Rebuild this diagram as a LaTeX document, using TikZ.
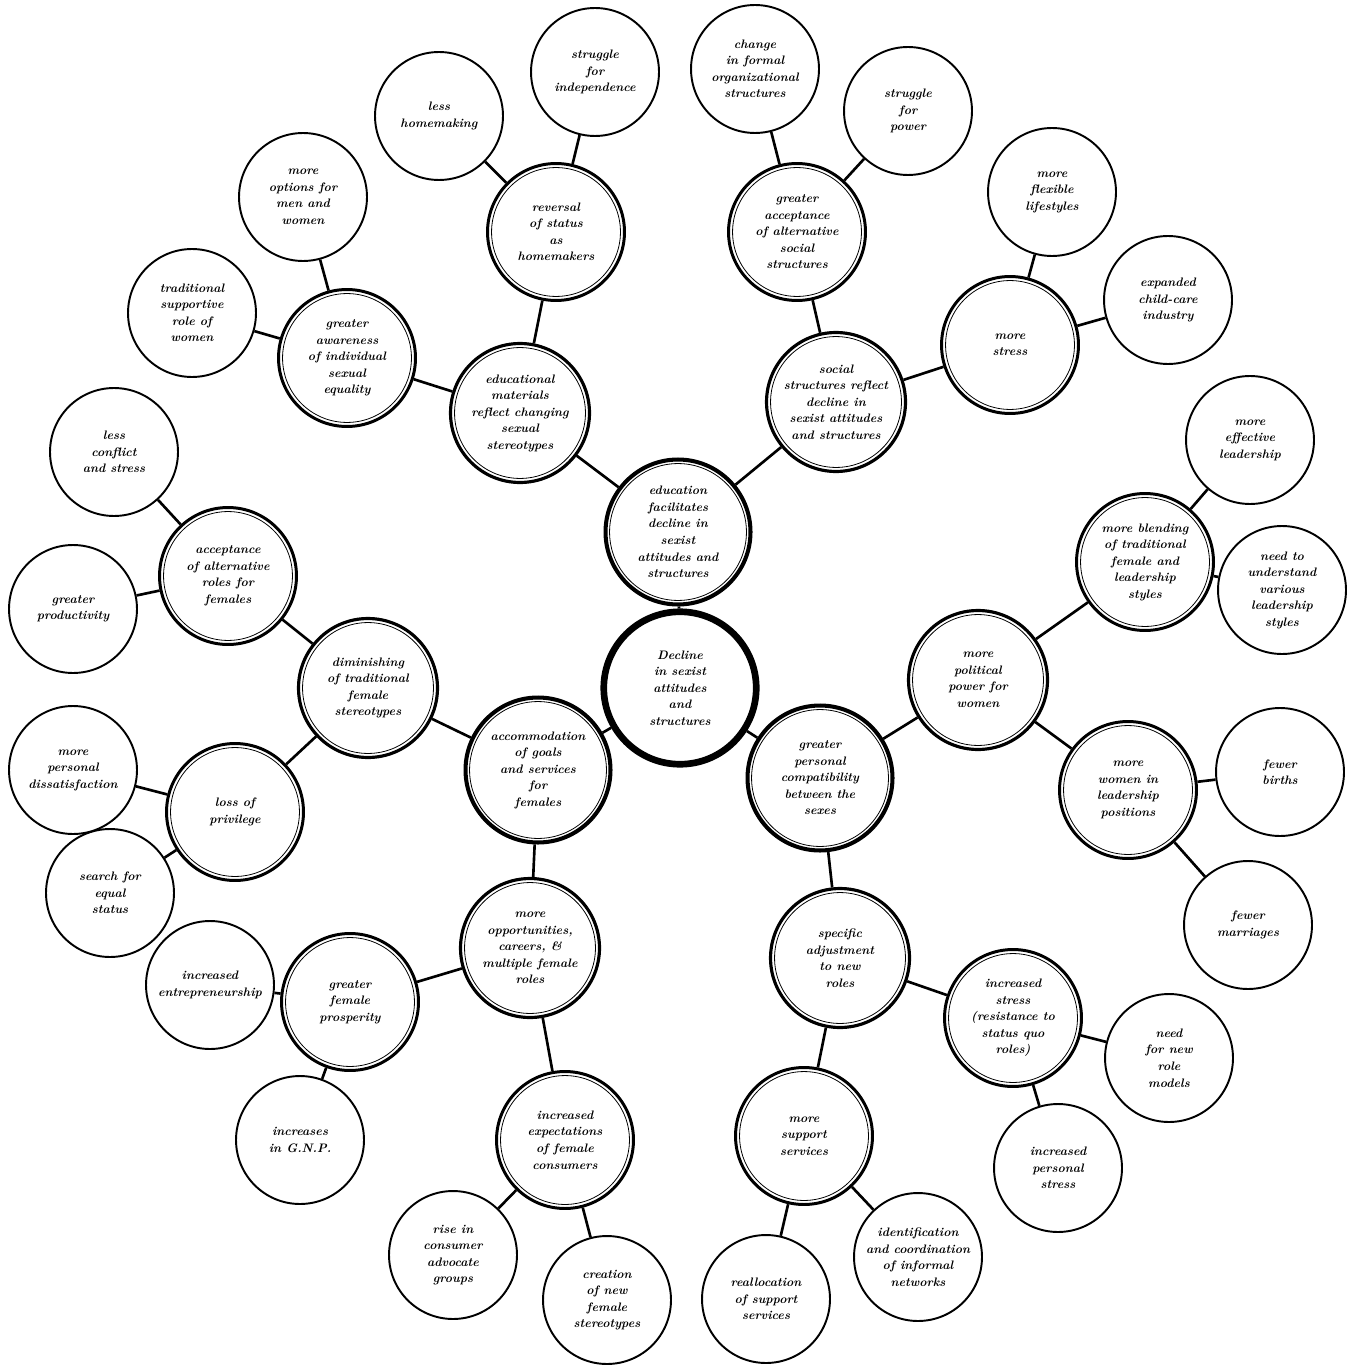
\documentclass[tikz,border=0pt]{standalone}
\usetikzlibrary{calc}
\newcommand{\fwfont}{\fontsize{7}{9.4}\selectfont\bfseries\itshape}
\tikzset{
  fwbase/.style={circle, draw=black, fill=white, inner sep=1pt, align=center, font=\fwfont},
  fwhub/.style={fwbase, line width=3.8pt, minimum size=3.05cm},
  fwring/.style={fwbase, line width=#1,
    path picture={\draw[line width=0.45pt] let \p1=(path picture bounding box.center), \p2=(path picture bounding box.east) in (\p1) circle[radius=\x2-\x1-2.3pt];}},
  fwfirst/.style={fwring=2.3pt, minimum size=2.9cm},
  fwsecond/.style={fwring=1.8pt, minimum size=2.78cm},
  fwthird/.style={fwring=1.7pt, minimum size=2.74cm},
  fwleaf/.style={fwbase, line width=1.1pt, minimum size=2.56cm},
  fwlink/.style={line width=1.5pt, draw=black},
}
\begin{document}
\begin{tikzpicture}[x=0.02cm, y=-0.02cm]
  \useasboundingbox (0,0) rectangle (1346,1368);
  \node[fwhub] (hub) at (680,688) {Decline\\in sexist\\attitudes\\and\\structures};
  \node[fwfirst] (educ) at (678,532) {education\\facilitates\\decline in\\sexist\\attitudes and\\structures};
  \node[fwfirst] (accom) at (538,770) {accommodation\\of goals\\and services\\for\\females};
  \node[fwfirst] (compat) at (820,778) {greater\\personal\\compatibility\\between the\\sexes};
  \node[fwsecond] (edmat) at (520,413) {educational\\materials\\reflect changing\\sexual\\stereotypes};
  \node[fwsecond] (socstr) at (836,402) {social\\structures reflect\\decline in\\sexist attitudes\\and structures};
  \node[fwsecond] (dimin) at (368,688) {diminishing\\of traditional\\female\\stereotypes};
  \node[fwsecond] (oppor) at (530,948) {more\\opportunities,\\careers, \&\\multiple female\\roles};
  \node[fwsecond] (polit) at (978,680) {more\\political\\power for\\women};
  \node[fwsecond] (adjust) at (840,958) {specific\\adjustment\\to new\\roles};
  \node[fwthird] (revers) at (556,232) {reversal\\of status\\as\\homemakers};
  \node[fwthird] (aware) at (347,358) {greater\\awareness\\of individual\\sexual\\equality};
  \node[fwthird] (accalt) at (797,232) {greater\\acceptance\\of alternative\\social\\structures};
  \node[fwthird] (stress) at (1010,345) {more\\stress};
  \node[fwthird] (altrole) at (228,576) {acceptance\\of alternative\\roles for\\females};
  \node[fwthird] (privil) at (235,812) {loss of\\privilege};
  \node[fwthird] (prosp) at (350,1002) {greater\\female\\prosperity};
  \node[fwthird] (expect) at (565,1140) {increased\\expectations\\of female\\consumers};
  \node[fwthird] (blend) at (1145,562) {more blending\\of traditional\\female and\\leadership\\styles};
  \node[fwthird] (wolead) at (1128,790) {more\\women in\\leadership\\positions};
  \node[fwthird] (resist) at (1013,1018) {increased\\stress\\(resistance to\\status quo\\roles)};
  \node[fwthird] (suppt) at (804,1136) {more\\support\\services};
  \node[fwleaf] (homem) at (439,116) {less\\homemaking};
  \node[fwleaf] (indep) at (595,72) {struggle\\for\\independence};
  \node[fwleaf] (formal) at (755,69) {change\\in formal\\organizational\\structures};
  \node[fwleaf] (power) at (908,111) {struggle\\for\\power};
  \node[fwleaf] (flex) at (1052,192) {more\\flexible\\lifestyles};
  \node[fwleaf] (child) at (1168,300) {expanded\\child-care\\industry};
  \node[fwleaf] (efflead) at (1250,440) {more\\effective\\leadership};
  \node[fwleaf] (styles) at (1282,590) {need to\\understand\\various\\leadership\\styles};
  \node[fwleaf] (births) at (1280,772) {fewer\\births};
  \node[fwleaf] (marr) at (1248,925) {fewer\\marriages};
  \node[fwleaf] (models) at (1169,1058) {need\\for new\\role\\models};
  \node[fwleaf] (perstr) at (1058,1168) {increased\\personal\\stress};
  \node[fwleaf] (netw) at (918,1257) {identification\\and coordination\\of informal\\networks};
  \node[fwleaf] (realloc) at (766,1299) {reallocation\\of support\\services};
  \node[fwleaf] (newster) at (607,1300) {creation\\of new\\female\\stereotypes};
  \node[fwleaf] (advoc) at (453,1255) {rise in\\consumer\\advocate\\groups};
  \node[fwleaf] (gnp) at (300,1140) {increases\\in G.N.P.};
  \node[fwleaf] (entre) at (210,985) {increased\\entrepreneurship};
  \node[fwleaf] (equal) at (110,893) {search for\\equal\\status};
  \node[fwleaf] (dissat) at (73,770) {more\\personal\\dissatisfaction};
  \node[fwleaf] (produc) at (73,609) {greater\\productivity};
  \node[fwleaf] (conflict) at (114,452) {less\\conflict\\and stress};
  \node[fwleaf] (support) at (192,313) {traditional\\supportive\\role of\\women};
  \node[fwleaf] (options) at (303,197) {more\\options for\\men and\\women};
  \draw[fwlink] (hub) -- (educ);
  \draw[fwlink] (hub) -- (accom);
  \draw[fwlink] (hub) -- (compat);
  \draw[fwlink] (educ) -- (edmat);
  \draw[fwlink] (educ) -- (socstr);
  \draw[fwlink] (accom) -- (dimin);
  \draw[fwlink] (accom) -- (oppor);
  \draw[fwlink] (compat) -- (polit);
  \draw[fwlink] (compat) -- (adjust);
  \draw[fwlink] (edmat) -- (revers);
  \draw[fwlink] (edmat) -- (aware);
  \draw[fwlink] (socstr) -- (accalt);
  \draw[fwlink] (socstr) -- (stress);
  \draw[fwlink] (dimin) -- (altrole);
  \draw[fwlink] (dimin) -- (privil);
  \draw[fwlink] (oppor) -- (prosp);
  \draw[fwlink] (oppor) -- (expect);
  \draw[fwlink] (polit) -- (blend);
  \draw[fwlink] (polit) -- (wolead);
  \draw[fwlink] (adjust) -- (resist);
  \draw[fwlink] (adjust) -- (suppt);
  \draw[fwlink] (revers) -- (homem);
  \draw[fwlink] (revers) -- (indep);
  \draw[fwlink] (aware) -- (options);
  \draw[fwlink] (aware) -- (support);
  \draw[fwlink] (accalt) -- (formal);
  \draw[fwlink] (accalt) -- (power);
  \draw[fwlink] (stress) -- (flex);
  \draw[fwlink] (stress) -- (child);
  \draw[fwlink] (altrole) -- (conflict);
  \draw[fwlink] (altrole) -- (produc);
  \draw[fwlink] (privil) -- (dissat);
  \draw[fwlink] (privil) -- (equal);
  \draw[fwlink] (prosp) -- (entre);
  \draw[fwlink] (prosp) -- (gnp);
  \draw[fwlink] (expect) -- (advoc);
  \draw[fwlink] (expect) -- (newster);
  \draw[fwlink] (blend) -- (efflead);
  \draw[fwlink] (blend) -- (styles);
  \draw[fwlink] (wolead) -- (births);
  \draw[fwlink] (wolead) -- (marr);
  \draw[fwlink] (resist) -- (models);
  \draw[fwlink] (resist) -- (perstr);
  \draw[fwlink] (suppt) -- (realloc);
  \draw[fwlink] (suppt) -- (netw);
\end{tikzpicture}
\end{document}
